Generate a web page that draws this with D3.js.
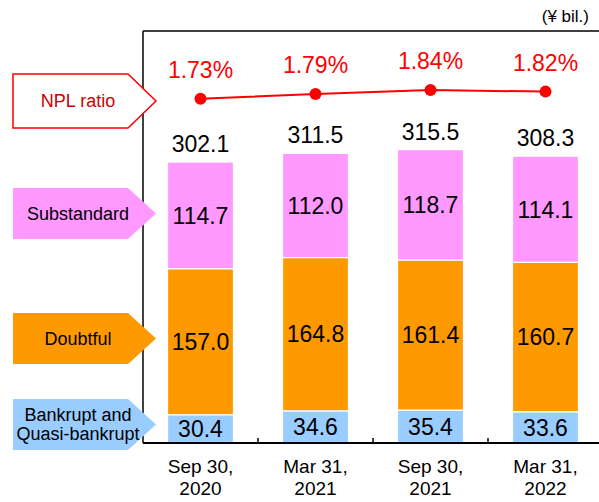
<!DOCTYPE html>
<html>
<head>
<meta charset="utf-8">
<script src="https://cdn.jsdelivr.net/npm/d3@7"></script>
<style>
  body { margin: 0; background: #fff; }
  svg { display: block; font-family: "Liberation Sans", Arial, sans-serif; }
</style>
</head>
<body>
<div id="chart"></div>
<script>
// data
var periods = [["Sep 30,", "2020"], ["Mar 31,", "2021"], ["Sep 30,", "2021"], ["Mar 31,", "2022"]];
var bankrupt = [30.4, 34.6, 35.4, 33.6];
var doubtful = [157.0, 164.8, 161.4, 160.7];
var substandard = [114.7, 112.0, 118.7, 114.1];
var totals = [302.1, 311.5, 315.5, 308.3];
var nplRatio = [1.73, 1.79, 1.84, 1.82];

var width = 599, height = 502;
var plotLeft = 143, plotTop = 31, plotBottom = 443;

var keys = ["bankrupt", "doubtful", "substandard"];
var color = { bankrupt: "#99ccff", doubtful: "#ff9900", substandard: "#ff99ff" };

var rows = periods.map(function (p, i) {
  return { bankrupt: bankrupt[i], doubtful: doubtful[i], substandard: substandard[i] };
});

var svg = d3.select("#chart").append("svg")
  .attr("width", width)
  .attr("height", height);

var x = d3.scaleBand()
  .domain(d3.range(periods.length))
  .range([plotLeft, plotLeft + 460])
  .paddingInner(0.435)
  .paddingOuter(0.2175);

var y = d3.scaleLinear().domain([0, 443]).range([plotBottom, plotTop]);

// ratio axis (hidden), fitted so the line sits near the top of the frame
var y2 = d3.scaleLinear().domain([1.5, 2.0]).range([116.9, 77.4]);

var stack = d3.stack().keys(keys)(rows);

// frame
svg.append("line")
  .attr("x1", plotLeft).attr("x2", width).attr("y1", plotTop).attr("y2", plotTop)
  .attr("stroke", "#000").attr("stroke-width", 1.5);
svg.append("line")
  .attr("x1", plotLeft).attr("x2", plotLeft).attr("y1", plotTop).attr("y2", plotBottom)
  .attr("stroke", "#000").attr("stroke-width", 1.5);

// stacked bars
svg.selectAll(".layer")
  .data(stack)
  .enter().append("g")
  .attr("class", "layer")
  .attr("fill", function (d) { return color[d.key]; })
  .selectAll("rect")
  .data(function (d) { return d; })
  .enter().append("rect")
  .attr("x", function (d, i) { return x(i) - 0.5; })
  .attr("width", x.bandwidth() + 1)
  .attr("y", function (d) { return y(d[1]); })
  .attr("height", function (d) { return y(d[0]) - y(d[1]); })
  .attr("stroke", "#fff")
  .attr("stroke-width", 1.2);

// segment labels
stack.forEach(function (layer) {
  svg.append("g").selectAll("text")
    .data(layer)
    .enter().append("text")
    .attr("x", function (d, i) { return x(i) + x.bandwidth() / 2; })
    .attr("y", function (d) { return (y(d[0]) + y(d[1])) / 2; })
    .attr("dy", "0.36em")
    .attr("text-anchor", "middle")
    .attr("font-size", 23)
    .attr("fill", "#000")
    .text(function (d) { return (d[1] - d[0]).toFixed(1); });
});

// totals
svg.append("g").selectAll("text")
  .data(totals)
  .enter().append("text")
  .attr("x", function (d, i) { return x(i) + x.bandwidth() / 2; })
  .attr("y", function (d, i) { return y(stack[2][i][1]) - 10; })
  .attr("text-anchor", "middle")
  .attr("font-size", 23)
  .text(function (d) { return d.toFixed(1); });

// x axis
var xAxis = svg.append("g").attr("transform", "translate(0," + plotBottom + ")");
xAxis.append("line")
  .attr("x1", plotLeft).attr("x2", width)
  .attr("stroke", "#000").attr("stroke-width", 2);
xAxis.selectAll(".tick")
  .data(d3.range(1, periods.length))
  .enter().append("line")
  .attr("x1", function (i) { return x(i) - x.step() * x.paddingInner() / 2; })
  .attr("x2", function (i) { return x(i) - x.step() * x.paddingInner() / 2; })
  .attr("y1", 0).attr("y2", -5)
  .attr("stroke", "#000").attr("stroke-width", 1.5);

var catLabels = svg.append("g").selectAll("text")
  .data(periods)
  .enter().append("text")
  .attr("x", function (d, i) { return x(i) + x.bandwidth() / 2; })
  .attr("y", 473)
  .attr("text-anchor", "middle")
  .attr("font-size", 19);
catLabels.append("tspan").text(function (d) { return d[0]; });
catLabels.append("tspan")
  .attr("x", function (d, i) { return x(i) + x.bandwidth() / 2; })
  .attr("dy", 22)
  .text(function (d) { return d[1]; });

// NPL ratio line
var line = d3.line()
  .x(function (d, i) { return x(i) + x.bandwidth() / 2; })
  .y(function (d) { return y2(d); });

svg.append("path")
  .datum(nplRatio)
  .attr("d", line)
  .attr("fill", "none")
  .attr("stroke", "#ff0000")
  .attr("stroke-width", 2);

svg.append("g").selectAll("circle")
  .data(nplRatio)
  .enter().append("circle")
  .attr("cx", function (d, i) { return x(i) + x.bandwidth() / 2; })
  .attr("cy", function (d) { return y2(d); })
  .attr("r", 6)
  .attr("fill", "#ff0000");

svg.append("g").selectAll("text")
  .data(nplRatio)
  .enter().append("text")
  .attr("x", function (d, i) { return x(i) + x.bandwidth() / 2; })
  .attr("y", function (d) { return y2(d) - 21; })
  .attr("text-anchor", "middle")
  .attr("font-size", 23)
  .attr("fill", "#ff0000")
  .text(function (d) { return d.toFixed(2) + "%"; });

// unit
svg.append("text")
  .attr("x", 589).attr("y", 22)
  .attr("text-anchor", "end")
  .attr("font-size", 17)
  .text("(\u00a5 bil.)");

// callouts on the left
function arrow(y0, y1) {
  var x0 = 13, x1 = 128, tip = 156, ym = (y0 + y1) / 2;
  return [[x0, y0], [x1, y0], [tip, ym], [x1, y1], [x0, y1]];
}
var callouts = [
  { y0: 74, y1: 128, fill: "#fff", stroke: "#ff0000", text: ["NPL ratio"], color: "#cc0000" },
  { y0: 188, y1: 239, fill: "#ff99ff", stroke: "none", text: ["Substandard"], color: "#000" },
  { y0: 313, y1: 364, fill: "#ff9900", stroke: "none", text: ["Doubtful"], color: "#000" },
  { y0: 399, y1: 450, fill: "#99ccff", stroke: "none", text: ["Bankrupt and", "Quasi-bankrupt"], color: "#000" }
];
var co = svg.append("g").selectAll("g")
  .data(callouts)
  .enter().append("g");
co.append("polygon")
  .attr("points", function (d) { return arrow(d.y0, d.y1).join(" "); })
  .attr("fill", function (d) { return d.fill; })
  .attr("stroke", function (d) { return d.stroke; })
  .attr("stroke-width", 1.5);
co.each(function (d) {
  var g = d3.select(this);
  var ym = (d.y0 + d.y1) / 2;
  var n = d.text.length;
  d.text.forEach(function (t, k) {
    g.append("text")
      .attr("x", 78)
      .attr("y", ym + (k - (n - 1) / 2) * 19)
      .attr("dy", "0.36em")
      .attr("text-anchor", "middle")
      .attr("font-size", 18)
      .attr("fill", d.color)
      .text(t);
  });
});
</script>
</body>
</html>
